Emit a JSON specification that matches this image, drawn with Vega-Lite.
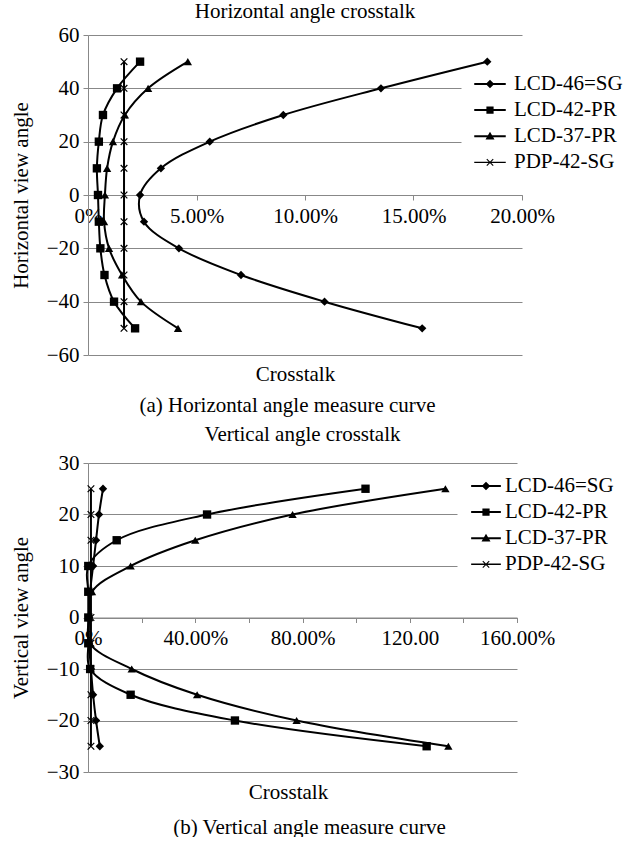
{
  "$schema": "https://vega.github.io/schema/vega-lite/v6.json",
  "background": "white",
  "padding": {"left": 10, "top": 1, "right": 0, "bottom": 0},
  "spacing": 9,
  "config": {
    "font": "Liberation Serif",
    "view": {"stroke": null},
    "axis": {
      "labelFont": "Liberation Serif", "titleFont": "Liberation Serif",
      "labelFontSize": 21, "titleFontSize": 21, "titleFontWeight": "normal",
      "labelColor": "black", "titleColor": "black",
      "domainColor": "#888", "tickColor": "#888", "gridColor": "#888", "gridOpacity": 1,
      "labelFlush": false, "labelOverlap": false, "tickSize": 5
    },
    "title": {"font": "Liberation Serif", "fontSize": 21, "fontWeight": "normal", "color": "black"},
    "legend": {
      "labelFont": "Liberation Serif", "labelFontSize": 21, "labelColor": "black",
      "fillColor": "white", "padding": 4, "symbolOffset": 14, "rowPadding": 4.1,
      "symbolSize": 81, "symbolFillColor": "black", "symbolStrokeColor": "black",
      "symbolStrokeWidth": 0, "symbolOpacity": 1, "labelLimit": 300
    }
  },
  "datasets": {
    "h": [
      {"series": "LCD-46=SG", "angle": 50, "crosstalk": 0.184},
      {"series": "LCD-46=SG", "angle": 40, "crosstalk": 0.135},
      {"series": "LCD-46=SG", "angle": 30, "crosstalk": 0.090},
      {"series": "LCD-46=SG", "angle": 20, "crosstalk": 0.0561},
      {"series": "LCD-46=SG", "angle": 10, "crosstalk": 0.0336},
      {"series": "LCD-46=SG", "angle": 0, "crosstalk": 0.024},
      {"series": "LCD-46=SG", "angle": -10, "crosstalk": 0.0258},
      {"series": "LCD-46=SG", "angle": -20, "crosstalk": 0.0419},
      {"series": "LCD-46=SG", "angle": -30, "crosstalk": 0.0705},
      {"series": "LCD-46=SG", "angle": -40, "crosstalk": 0.109},
      {"series": "LCD-46=SG", "angle": -50, "crosstalk": 0.154},
      {"series": "LCD-42-PR", "angle": 50, "crosstalk": 0.024},
      {"series": "LCD-42-PR", "angle": 40, "crosstalk": 0.0134},
      {"series": "LCD-42-PR", "angle": 30, "crosstalk": 0.0069},
      {"series": "LCD-42-PR", "angle": 20, "crosstalk": 0.005},
      {"series": "LCD-42-PR", "angle": 10, "crosstalk": 0.0041},
      {"series": "LCD-42-PR", "angle": 0, "crosstalk": 0.0046},
      {"series": "LCD-42-PR", "angle": -10, "crosstalk": 0.005},
      {"series": "LCD-42-PR", "angle": -20, "crosstalk": 0.0057},
      {"series": "LCD-42-PR", "angle": -30, "crosstalk": 0.0076},
      {"series": "LCD-42-PR", "angle": -40, "crosstalk": 0.012},
      {"series": "LCD-42-PR", "angle": -50, "crosstalk": 0.0217},
      {"series": "LCD-37-PR", "angle": 50, "crosstalk": 0.046},
      {"series": "LCD-37-PR", "angle": 40, "crosstalk": 0.0277},
      {"series": "LCD-37-PR", "angle": 30, "crosstalk": 0.017},
      {"series": "LCD-37-PR", "angle": 20, "crosstalk": 0.0115},
      {"series": "LCD-37-PR", "angle": 10, "crosstalk": 0.0088},
      {"series": "LCD-37-PR", "angle": 0, "crosstalk": 0.0078},
      {"series": "LCD-37-PR", "angle": -10, "crosstalk": 0.0074},
      {"series": "LCD-37-PR", "angle": -20, "crosstalk": 0.0097},
      {"series": "LCD-37-PR", "angle": -30, "crosstalk": 0.0157},
      {"series": "LCD-37-PR", "angle": -40, "crosstalk": 0.0244},
      {"series": "LCD-37-PR", "angle": -50, "crosstalk": 0.0415},
      {"series": "PDP-42-SG", "angle": 50, "crosstalk": 0.0166},
      {"series": "PDP-42-SG", "angle": 40, "crosstalk": 0.0166},
      {"series": "PDP-42-SG", "angle": 30, "crosstalk": 0.0166},
      {"series": "PDP-42-SG", "angle": 20, "crosstalk": 0.0166},
      {"series": "PDP-42-SG", "angle": 10, "crosstalk": 0.0166},
      {"series": "PDP-42-SG", "angle": 0, "crosstalk": 0.0166},
      {"series": "PDP-42-SG", "angle": -10, "crosstalk": 0.0166},
      {"series": "PDP-42-SG", "angle": -20, "crosstalk": 0.0166},
      {"series": "PDP-42-SG", "angle": -30, "crosstalk": 0.0166},
      {"series": "PDP-42-SG", "angle": -40, "crosstalk": 0.0166},
      {"series": "PDP-42-SG", "angle": -50, "crosstalk": 0.0166}
    ],
    "v": [
      {"series": "LCD-46=SG", "angle": 25, "crosstalk": 0.056},
      {"series": "LCD-46=SG", "angle": 20, "crosstalk": 0.041},
      {"series": "LCD-46=SG", "angle": 15, "crosstalk": 0.030},
      {"series": "LCD-46=SG", "angle": 10, "crosstalk": 0.019},
      {"series": "LCD-46=SG", "angle": 5, "crosstalk": 0.008},
      {"series": "LCD-46=SG", "angle": 0, "crosstalk": 0.004},
      {"series": "LCD-46=SG", "angle": -5, "crosstalk": 0.004},
      {"series": "LCD-46=SG", "angle": -10, "crosstalk": 0.011},
      {"series": "LCD-46=SG", "angle": -15, "crosstalk": 0.019},
      {"series": "LCD-46=SG", "angle": -20, "crosstalk": 0.030},
      {"series": "LCD-46=SG", "angle": -25, "crosstalk": 0.044},
      {"series": "LCD-42-PR", "angle": 25, "crosstalk": 1.035},
      {"series": "LCD-42-PR", "angle": 20, "crosstalk": 0.444},
      {"series": "LCD-42-PR", "angle": 15, "crosstalk": 0.107},
      {"series": "LCD-42-PR", "angle": 10, "crosstalk": 0.001},
      {"series": "LCD-42-PR", "angle": 5, "crosstalk": 0.001},
      {"series": "LCD-42-PR", "angle": 0, "crosstalk": 0.001},
      {"series": "LCD-42-PR", "angle": -5, "crosstalk": 0.001},
      {"series": "LCD-42-PR", "angle": -10, "crosstalk": 0.008},
      {"series": "LCD-42-PR", "angle": -15, "crosstalk": 0.159},
      {"series": "LCD-42-PR", "angle": -20, "crosstalk": 0.548},
      {"series": "LCD-42-PR", "angle": -25, "crosstalk": 1.263},
      {"series": "LCD-37-PR", "angle": 25, "crosstalk": 1.333},
      {"series": "LCD-37-PR", "angle": 20, "crosstalk": 0.763},
      {"series": "LCD-37-PR", "angle": 15, "crosstalk": 0.40},
      {"series": "LCD-37-PR", "angle": 10, "crosstalk": 0.159},
      {"series": "LCD-37-PR", "angle": 5, "crosstalk": 0.015},
      {"series": "LCD-37-PR", "angle": 0, "crosstalk": 0.004},
      {"series": "LCD-37-PR", "angle": -5, "crosstalk": 0.007},
      {"series": "LCD-37-PR", "angle": -10, "crosstalk": 0.163},
      {"series": "LCD-37-PR", "angle": -15, "crosstalk": 0.407},
      {"series": "LCD-37-PR", "angle": -20, "crosstalk": 0.778},
      {"series": "LCD-37-PR", "angle": -25, "crosstalk": 1.344},
      {"series": "PDP-42-SG", "angle": 25, "crosstalk": 0.011},
      {"series": "PDP-42-SG", "angle": 20, "crosstalk": 0.011},
      {"series": "PDP-42-SG", "angle": 15, "crosstalk": 0.011},
      {"series": "PDP-42-SG", "angle": 10, "crosstalk": 0.011},
      {"series": "PDP-42-SG", "angle": 5, "crosstalk": 0.011},
      {"series": "PDP-42-SG", "angle": 0, "crosstalk": 0.011},
      {"series": "PDP-42-SG", "angle": -5, "crosstalk": 0.011},
      {"series": "PDP-42-SG", "angle": -10, "crosstalk": 0.011},
      {"series": "PDP-42-SG", "angle": -15, "crosstalk": 0.011},
      {"series": "PDP-42-SG", "angle": -20, "crosstalk": 0.011},
      {"series": "PDP-42-SG", "angle": -25, "crosstalk": 0.011}
    ]
  },
  "vconcat": [
    {
      "width": 434, "height": 320,
      "title": {"text": "Horizontal angle crosstalk", "frame": "group", "anchor": "middle", "offset": 2},
      "data": {"name": "h"},
      "layer": [
        {
          "mark": {"type": "line", "interpolate": "catmull-rom", "color": "black", "strokeWidth": 2},
          "encoding": {
            "x": {"field": "crosstalk", "type": "quantitative", "scale": {"domain": [0, 0.2], "nice": false, "zero": true},
              "axis": {"values": [0, 0.05, 0.1, 0.15, 0.2], "labelExpr": "datum.value == 0 ? '0%' : format(datum.value, '.2%')",
                "labelFont": "Liberation Serif", "titleFont": "Liberation Serif",
                "offset": -160, "grid": false, "labelPadding": 5, "title": "Crosstalk",
                "titleX": 207, "titleY": 185, "titleBaseline": "alphabetic", "titleAlign": "center"}},
            "y": {"field": "angle", "type": "quantitative", "scale": {"domain": [-60, 60], "nice": false},
              "axis": {"values": [-60, -40, -20, 0, 20, 40, 60], "grid": true, "labelPadding": 4, "titlePadding": 15, "title": "Horizontal view angle",
                "labelFont": "Liberation Serif", "titleFont": "Liberation Serif"}},
            "detail": {"field": "series"},
            "order": {"field": "angle", "type": "quantitative"}
          }
        },
        {
          "mark": {"type": "point", "filled": true, "color": "black", "size": 70, "opacity": 1},
          "encoding": {
            "x": {"field": "crosstalk", "type": "quantitative", "scale": {"domain": [0, 0.2], "nice": false, "zero": true},
              "axis": {"orient": "bottom", "title": "(a) Horizontal angle measure curve", "labels": false, "ticks": false, "domain": false, "grid": false,
                "titleFont": "Liberation Serif",
                "titleX": 199, "titleY": 56, "titleBaseline": "alphabetic", "titleAlign": "center"}},
            "y": {"field": "angle", "type": "quantitative", "scale": {"domain": [-60, 60], "nice": false}, "axis": null},
            "shape": {"field": "series", "type": "nominal", "legend": null,
              "scale": {"domain": ["LCD-46=SG", "LCD-42-PR", "LCD-37-PR", "PDP-42-SG"],
                "range": ["diamond", "square", "triangle-up", "M-0.69,-0.9L0.9,0.69L0.69,0.9L-0.9,-0.69Z M0.9,-0.69L-0.69,0.9L-0.9,0.69L0.69,-0.9Z"]}}
          }
        },
        {
          "mark": {"type": "point", "filled": true, "color": "black", "opacity": 0},
          "encoding": {
            "x": {"field": "crosstalk", "type": "quantitative", "scale": {"domain": [0, 0.2], "nice": false, "zero": true}, "axis": null},
            "y": {"field": "angle", "type": "quantitative", "scale": {"domain": [-60, 60], "nice": false}, "axis": null},
            "shape": {"field": "series", "type": "nominal",
              "scale": {"domain": ["LCD-46=SG", "LCD-42-PR", "LCD-37-PR", "PDP-42-SG"],
                "range": [
                  "M-3.5,-0.22H3.5V0.22H-3.5Z M0,-0.95L0.95,0L0,0.95L-0.95,0Z",
                  "M-3.5,-0.22H3.5V0.22H-3.5Z M-0.8,-0.8H0.8V0.8H-0.8Z",
                  "M-3.5,-0.22H3.5V0.22H-3.5Z M0,-1L1,0.75H-1Z",
                  "M-3.5,-0.15H3.5V0.15H-3.5Z M-0.63,-0.8L0.8,0.63L0.63,0.8L-0.8,-0.63Z M0.8,-0.63L-0.63,0.8L-0.8,0.63L0.63,-0.8Z"
                ]},
              "legend": {"orient": "none", "legendX": 373.5, "legendY": 34.5, "title": null, "labelOffset": 13.5, "labelFont": "Liberation Serif"}}
          }
        }
      ],
      "resolve": {"axis": {"x": "independent", "y": "independent"}, "scale": {"shape": "independent"}}
    },
    {
      "width": 429, "height": 309,
      "title": {"text": "Vertical angle crosstalk", "frame": "group", "anchor": "middle", "offset": 7},
      "data": {"name": "v"},
      "layer": [
        {
          "mark": {"type": "line", "interpolate": "catmull-rom", "color": "black", "strokeWidth": 2},
          "encoding": {
            "x": {"field": "crosstalk", "type": "quantitative", "scale": {"domain": [0, 1.6], "nice": false, "zero": true},
              "axis": {"values": [0, 0.2, 0.4, 0.6, 0.8, 1.0, 1.2, 1.4, 1.6],
                "labelExpr": "datum.value == 0 ? '0%' : (round(datum.value * 10) % 4 != 0 ? '' : (round(datum.value * 10) == 12 ? '120.00' : format(datum.value, '.2%')))",
                "labelFont": "Liberation Serif", "titleFont": "Liberation Serif",
                "offset": -154.5, "grid": false, "labelPadding": 5, "title": "Crosstalk",
                "titleX": 200, "titleY": 181, "titleBaseline": "alphabetic", "titleAlign": "center"}},
            "y": {"field": "angle", "type": "quantitative", "scale": {"domain": [-30, 30], "nice": false},
              "axis": {"values": [-30, -20, -10, 0, 10, 20, 30], "grid": true, "labelPadding": 4, "titlePadding": 15, "title": "Vertical view angle",
                "labelFont": "Liberation Serif", "titleFont": "Liberation Serif"}},
            "detail": {"field": "series"},
            "order": {"field": "angle", "type": "quantitative"}
          }
        },
        {
          "mark": {"type": "point", "filled": true, "color": "black", "size": 70, "opacity": 1},
          "encoding": {
            "x": {"field": "crosstalk", "type": "quantitative", "scale": {"domain": [0, 1.6], "nice": false, "zero": true},
              "axis": {"orient": "bottom", "title": "(b) Vertical angle measure curve", "labels": false, "ticks": false, "domain": false, "grid": false,
                "titleFont": "Liberation Serif",
                "titleX": 221, "titleY": 61, "titleBaseline": "alphabetic", "titleAlign": "center"}},
            "y": {"field": "angle", "type": "quantitative", "scale": {"domain": [-30, 30], "nice": false}, "axis": null},
            "shape": {"field": "series", "type": "nominal", "legend": null,
              "scale": {"domain": ["LCD-46=SG", "LCD-42-PR", "LCD-37-PR", "PDP-42-SG"],
                "range": ["diamond", "square", "triangle-up", "M-0.69,-0.9L0.9,0.69L0.69,0.9L-0.9,-0.69Z M0.9,-0.69L-0.69,0.9L-0.9,0.69L0.69,-0.9Z"]}}
          }
        },
        {
          "mark": {"type": "point", "filled": true, "color": "black", "opacity": 0},
          "encoding": {
            "x": {"field": "crosstalk", "type": "quantitative", "scale": {"domain": [0, 1.6], "nice": false, "zero": true}, "axis": null},
            "y": {"field": "angle", "type": "quantitative", "scale": {"domain": [-30, 30], "nice": false}, "axis": null},
            "shape": {"field": "series", "type": "nominal",
              "scale": {"domain": ["LCD-46=SG", "LCD-42-PR", "LCD-37-PR", "PDP-42-SG"],
                "range": [
                  "M-3.3,-0.22H3.3V0.22H-3.3Z M0,-0.95L0.95,0L0,0.95L-0.95,0Z",
                  "M-3.3,-0.22H3.3V0.22H-3.3Z M-0.8,-0.8H0.8V0.8H-0.8Z",
                  "M-3.3,-0.22H3.3V0.22H-3.3Z M0,-1L1,0.75H-1Z",
                  "M-3.3,-0.15H3.3V0.15H-3.3Z M-0.63,-0.8L0.8,0.63L0.63,0.8L-0.8,-0.63Z M0.8,-0.63L-0.63,0.8L-0.8,0.63L0.63,-0.8Z"
                ]},
              "legend": {"orient": "none", "legendX": 369.5, "legendY": 8.5, "title": null, "labelOffset": 8.5, "labelFont": "Liberation Serif"}}
          }
        }
      ],
      "resolve": {"axis": {"x": "independent", "y": "independent"}, "scale": {"shape": "independent"}}
    }
  ]
}
